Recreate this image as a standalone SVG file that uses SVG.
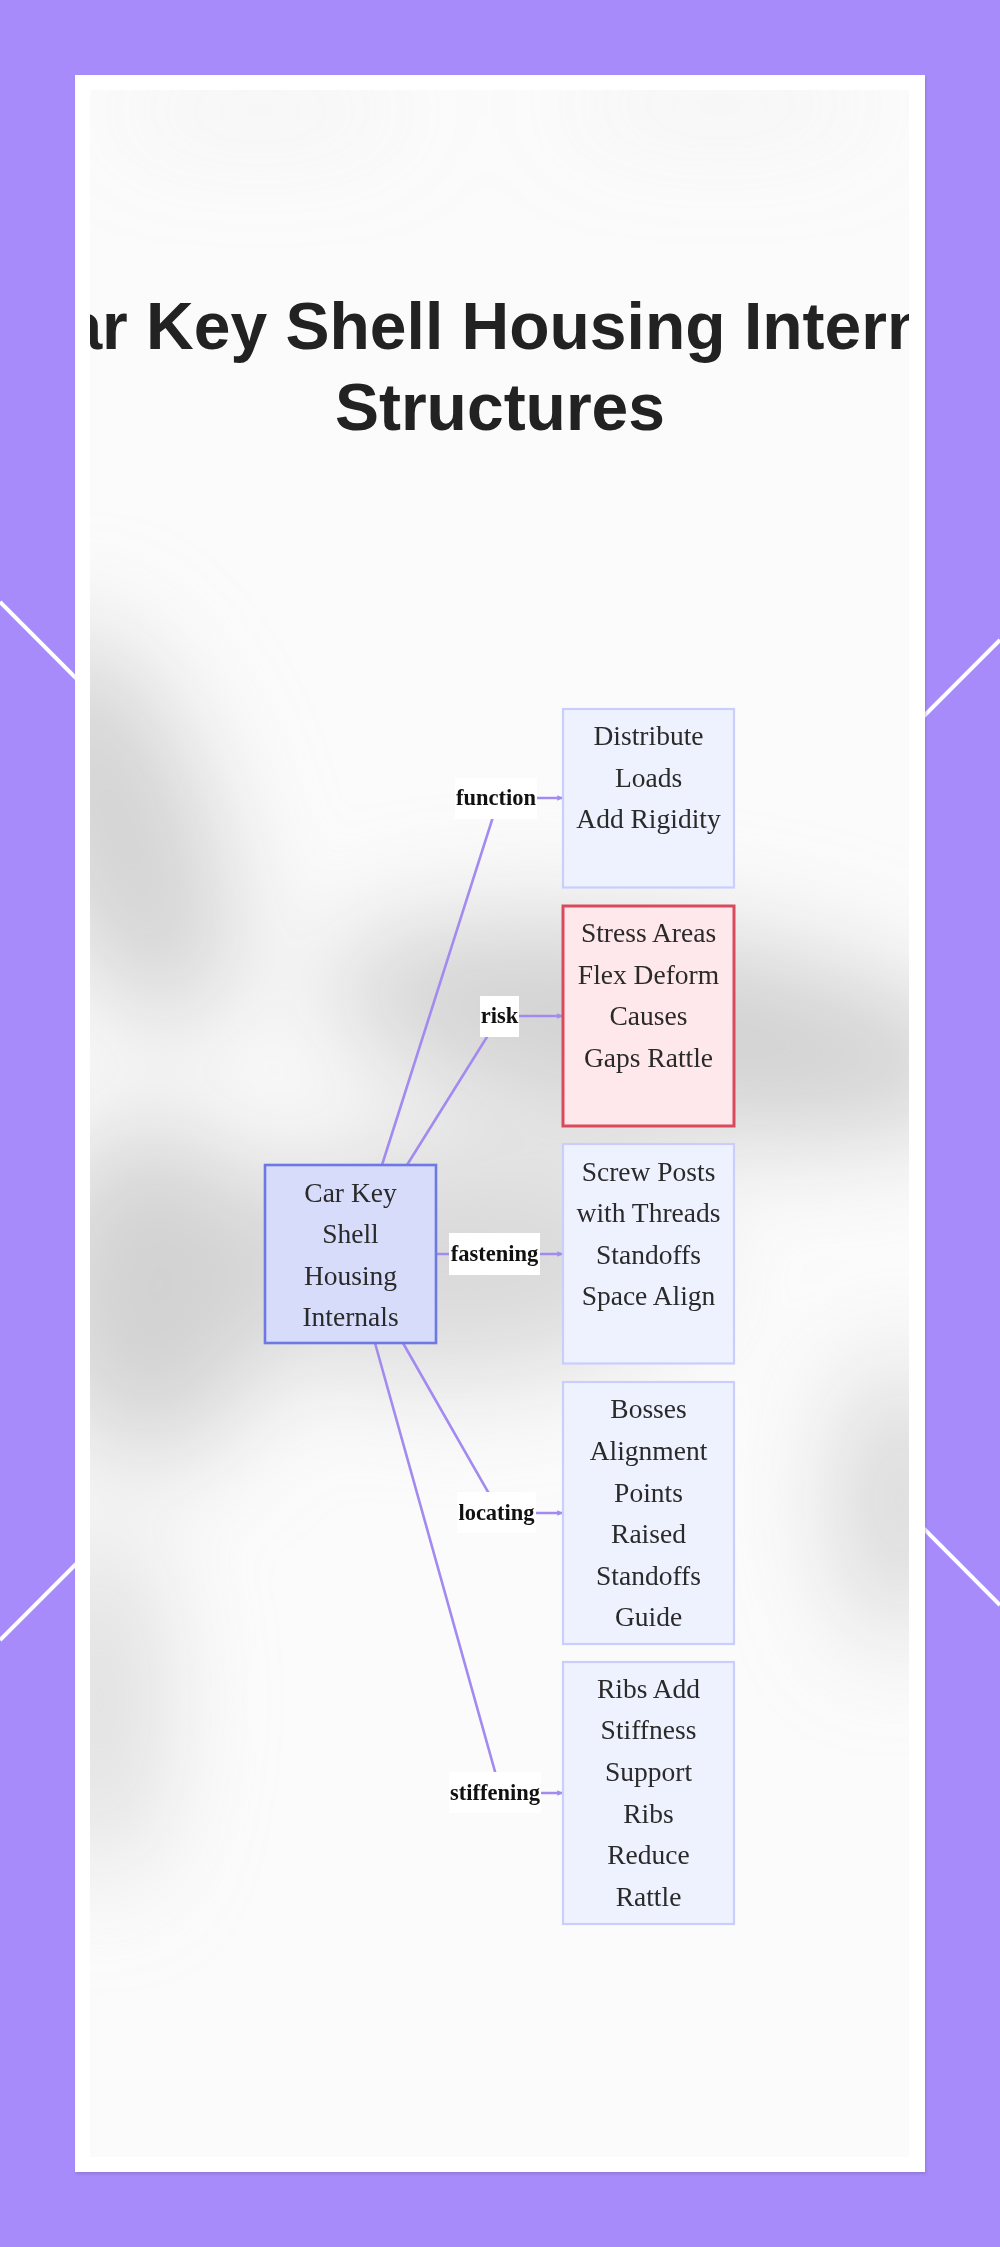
<svg xmlns="http://www.w3.org/2000/svg" width="1000" height="2247" viewBox="0 0 1000 2247">
<style>
.title{font-family:"Liberation Sans",Arial,sans-serif;font-weight:bold;font-size:66px;fill:#222;text-anchor:middle}
.ntext{font-family:"Liberation Serif","Times New Roman",serif;font-size:27.5px;fill:#2a2a2a;text-anchor:middle}
.ltext{font-family:"Liberation Serif","Times New Roman",serif;font-weight:bold;font-size:22.5px;fill:#111;text-anchor:middle}
.node rect{fill:#eef1fe;stroke:#c9cffa;stroke-width:2.2}
#n-root rect{fill:#d8dcfb;stroke:#6d78e2;stroke-width:2.6}
#n-risk rect{fill:#ffe8eb;stroke:#d94a5c;stroke-width:3}
.edge{fill:none;stroke:#a28af0;stroke-width:2.6;marker-end:url(#arr)}
.lbg{fill:#ffffff}
</style>
<defs>
<marker id="arr" viewBox="0 0 8 8" refX="8" refY="4" markerWidth="2.2" markerHeight="2.2" orient="auto" markerUnits="strokeWidth">
<path d="M0,0 L8,4 L0,8 z" fill="#a28af0"/>
</marker>
<filter id="blur" filterUnits="userSpaceOnUse" x="0" y="0" width="1000" height="2247"><feGaussianBlur stdDeviation="55"/></filter>
<filter id="sh" x="-5%" y="-5%" width="110%" height="110%"><feGaussianBlur stdDeviation="1.5"/></filter>
<clipPath id="panel"><rect x="90" y="90" width="819" height="2067"/></clipPath>
</defs>
<rect x="0" y="0" width="1000" height="2247" fill="#a78bfa"/>
<g stroke="#ffffff" stroke-width="4">
<line x1="0" y1="602" x2="1000" y2="1605"/>
<line x1="0" y1="1640" x2="1000" y2="640"/>
</g>
<rect x="76" y="77" width="850" height="2097" fill="#7d6bb8" opacity="0.5" filter="url(#sh)"/>
<rect x="75" y="75" width="850" height="2097" fill="#ffffff"/>
<g clip-path="url(#panel)">
<rect x="90" y="90" width="819" height="2067" fill="#fbfbfb"/>
<g filter="url(#blur)" fill="#d2d2d2">
<ellipse cx="260" cy="110" rx="150" ry="20" opacity="0.3"/>
<ellipse cx="720" cy="105" rx="160" ry="20" opacity="0.3"/>
<ellipse cx="120" cy="830" rx="90" ry="210" transform="rotate(-20 120 830)"/>
<ellipse cx="660" cy="1030" rx="340" ry="100" transform="rotate(8 660 1030)"/>
<ellipse cx="150" cy="1290" rx="120" ry="170"/>
<ellipse cx="450" cy="1260" rx="240" ry="120" opacity="0.8"/>
<ellipse cx="900" cy="1500" rx="55" ry="140"/>
<ellipse cx="100" cy="1700" rx="55" ry="180" opacity="0.8"/>
</g>
<text class="title" x="500" y="349">Car Key Shell Housing Internal</text>
<text class="title" x="500" y="430">Structures</text>
</g>
<g id="connectors">
<path class="edge" d="M382,1165 L499,798 L563,798"/>
<path class="edge" d="M407,1165 L500,1016 L563,1016"/>
<path class="edge" d="M436,1254 L563,1254"/>
<path class="edge" d="M403,1343 L500,1513 L563,1513"/>
<path class="edge" d="M375,1343 L501,1793 L563,1793"/>
<g id="l-function"><rect class="lbg" x="455" y="778" width="82" height="41"/><text class="ltext" x="496" y="805">function</text></g>
<g id="l-risk"><rect class="lbg" x="480" y="996" width="39" height="41"/><text class="ltext" x="499.5" y="1023">risk</text></g>
<g id="l-fastening"><rect class="lbg" x="449" y="1233" width="91" height="42"/><text class="ltext" x="494.5" y="1261">fastening</text></g>
<g id="l-locating"><rect class="lbg" x="457" y="1492" width="79" height="41"/><text class="ltext" x="496.5" y="1520">locating</text></g>
<g id="l-stiffening"><rect class="lbg" x="449" y="1772" width="92" height="41"/><text class="ltext" x="495" y="1800">stiffening</text></g>
</g>
<g id="n-root" class="node"><rect x="265" y="1165" width="171" height="178"/>
<text class="ntext" x="350.5" y="1201.5">Car Key</text><text class="ntext" x="350.5" y="1243">Shell</text><text class="ntext" x="350.5" y="1284.5">Housing</text><text class="ntext" x="350.5" y="1326">Internals</text></g>
<g id="n-function" class="node"><rect x="563" y="709" width="171" height="178.5"/>
<text class="ntext" x="648.5" y="745">Distribute</text><text class="ntext" x="648.5" y="786.6">Loads</text><text class="ntext" x="648.5" y="828.2">Add Rigidity</text></g>
<g id="n-risk" class="node"><rect x="563" y="906" width="171" height="220"/>
<text class="ntext" x="648.5" y="942">Stress Areas</text><text class="ntext" x="648.5" y="983.6">Flex Deform</text><text class="ntext" x="648.5" y="1025.2">Causes</text><text class="ntext" x="648.5" y="1066.8">Gaps Rattle</text></g>
<g id="n-fastening" class="node"><rect x="563" y="1144" width="171" height="219.5"/>
<text class="ntext" x="648.5" y="1180.5">Screw Posts</text><text class="ntext" x="648.5" y="1222.1">with Threads</text><text class="ntext" x="648.5" y="1263.7">Standoffs</text><text class="ntext" x="648.5" y="1305.3">Space Align</text></g>
<g id="n-locating" class="node"><rect x="563" y="1382" width="171" height="262"/>
<text class="ntext" x="648.5" y="1418.3">Bosses</text><text class="ntext" x="648.5" y="1459.9">Alignment</text><text class="ntext" x="648.5" y="1501.5">Points</text><text class="ntext" x="648.5" y="1543.1">Raised</text><text class="ntext" x="648.5" y="1584.7">Standoffs</text><text class="ntext" x="648.5" y="1626.3">Guide</text></g>
<g id="n-stiffening" class="node"><rect x="563" y="1662" width="171" height="262"/>
<text class="ntext" x="648.5" y="1697.8">Ribs Add</text><text class="ntext" x="648.5" y="1739.4">Stiffness</text><text class="ntext" x="648.5" y="1781">Support</text><text class="ntext" x="648.5" y="1822.6">Ribs</text><text class="ntext" x="648.5" y="1864.2">Reduce</text><text class="ntext" x="648.5" y="1905.8">Rattle</text></g>
</svg>
